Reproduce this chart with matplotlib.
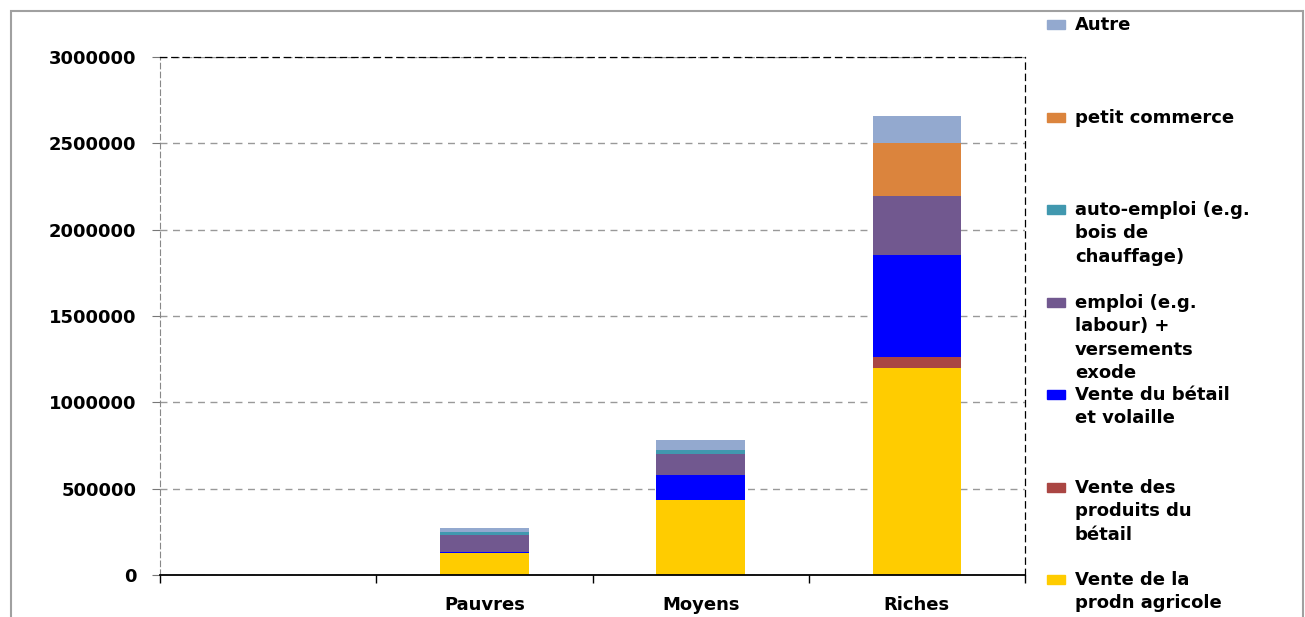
import numpy as np
import matplotlib
matplotlib.use("Agg")
import matplotlib.pyplot as plt
from matplotlib.patches import Rectangle

# revenus par groupe de richesse (le premier emplacement reste vide)
groups = ["", "Pauvres", "Moyens", "Riches"]

prodn_agricole = [0, 126000, 434000, 1199000]
produits_betail = [0, 0, 0, 64000]
betail_volaille = [0, 5000, 143000, 589000]
emploi = [0, 102000, 123000, 344000]
auto_emploi = [0, 17000, 23000, 0]
petit_commerce = [0, 0, 0, 307000]
autre = [0, 21000, 58000, 156000]

series = [
    (prodn_agricole, "Vente de la\nprodn agricole", "#FFCC00"),
    (produits_betail, "Vente des\nproduits du\nbétail", "#AA4643"),
    (betail_volaille, "Vente du bétail\net volaille", "#0000FF"),
    (emploi, "emploi (e.g.\nlabour) +\nversements\nexode", "#71588F"),
    (auto_emploi, "auto-emploi (e.g.\nbois de\nchauffage)", "#4198AF"),
    (petit_commerce, "petit commerce", "#DB843D"),
    (autre, "Autre", "#93A9CF"),
]

W, H = 1305, 617
fig = plt.figure(figsize=(W / 100, H / 100), dpi=100)
ax = fig.add_axes([160 / W, 1 - 575 / H, (1025 - 160) / W, (575 - 57) / H])

x = np.arange(len(groups))
bottom = np.zeros(len(groups))
for vals, label, color in series:
    vals = np.array(vals, dtype=float)
    ax.bar(x, vals, width=0.41, bottom=bottom, color=color, zorder=3)
    bottom += vals

ax.set_xlim(-0.5, 3.5)
ax.set_ylim(0, 3000000)
ax.set_yticks(np.arange(0, 3000001, 500000))
ax.set_yticklabels([str(v) for v in range(0, 3000001, 500000)])
ax.yaxis.grid(True, color="#999999", linestyle=(0, (5, 4)), linewidth=1, zorder=0)

ax.set_xticks(x)
ax.set_xticklabels(groups)
ax.set_xticks(np.arange(-0.5, 4, 1), minor=True)
ax.tick_params(axis="x", which="major", length=0, pad=15)
ax.tick_params(axis="x", which="minor", length=6, direction="out", width=1)
ax.tick_params(axis="y", length=6, direction="out", width=0.8, color="#777777", pad=11)

for lab in ax.get_xticklabels() + ax.get_yticklabels():
    lab.set_fontweight("bold")
    lab.set_fontsize(13)

ax.spines["bottom"].set_color("black")
ax.spines["bottom"].set_linewidth(1.3)
ax.spines["bottom"].set_zorder(4)
ax.spines["left"].set_color("#888888")
ax.spines["left"].set_linestyle((0, (5, 3)))
for side in ["top", "right"]:
    ax.spines[side].set_color("black")
    ax.spines[side].set_linestyle((0, (5, 4)))
    ax.spines[side].set_linewidth(0.9)

# legende : entrées espacées régulièrement, dans l'ordre inverse de l'empilement
legend_y = [25, 118, 210, 303, 395, 488, 580]
for (vals, label, color), yc in zip(series[::-1], legend_y):
    fig.add_artist(Rectangle((1047 / W, 1 - (yc + 4) / H), 18 / W, 9 / H,
                             transform=fig.transFigure, color=color))
    fig.text(1075 / W, 1 - (yc - 9) / H, label, ha="left", va="top",
             fontsize=13, fontweight="bold", linespacing=1.38)

# cadre extérieur du graphique
fig.add_artist(Rectangle((10.5 / W, -0.05), (1302.5 - 10.5) / W, 1.05 - 10.5 / H,
                         transform=fig.transFigure, fill=False,
                         edgecolor="#A0A0A0", linewidth=1.5))

fig.savefig("out.png", dpi=100)
